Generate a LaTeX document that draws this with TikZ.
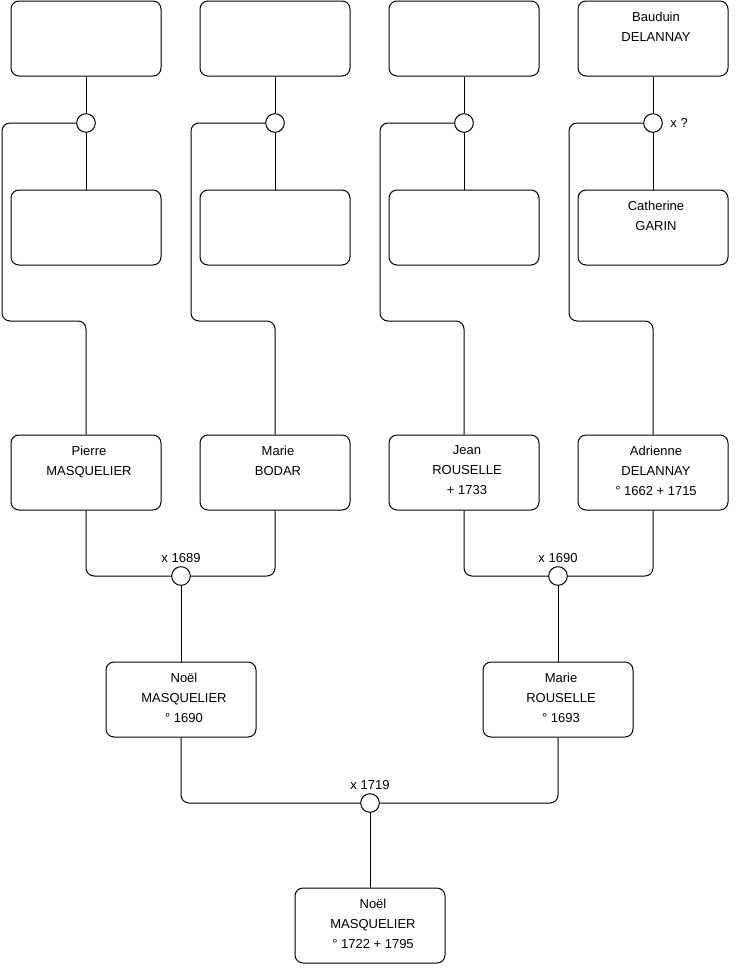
\documentclass[tikz,border=0pt]{standalone}
\usepackage{fontspec}
\setmainfont{Liberation Sans}
\begin{document}
\begin{tikzpicture}[x=0.75pt,y=-0.75pt,
 pbox/.style={draw, rounded corners=6pt, minimum width=112.5pt, minimum height=56.25pt, inner sep=0pt, line width=0.75pt},
 ptext/.style={anchor=north, align=center, inner sep=0pt, xshift=2.25pt, font=\fontsize{9.75}{15}\selectfont},
 knot/.style={draw, circle, minimum size=14pt, inner sep=0pt, fill=white, line width=0.75pt},
 link/.style={line width=0.75pt, rounded corners=6pt},
 lbl/.style={font=\fontsize{9.75}{12}\selectfont, inner sep=0pt}]
\useasboundingbox (0,0) rectangle (740,975);

% row 1
\node[pbox] (a1) at (86,38.5) {};
\node[pbox] (a2) at (275,38.5) {};
\node[pbox] (a3) at (464,38.5) {};
\node[pbox] (a4) at (653,38.5) {};
\node[ptext] (a4t) at ([yshift=-8.25pt]a4.north) {Bauduin\\DELANNAY};

% row 2
\node[pbox] (b1) at (86,227.5) {};
\node[pbox] (b2) at (275,227.5) {};
\node[pbox] (b3) at (464,227.5) {};
\node[pbox] (b4) at (653,227.5) {};
\node[ptext] (b4t) at ([yshift=-8.25pt]b4.north) {Catherine\\GARIN};

% row 3
\node[pbox] (p1) at (86,472.5) {};
\node[ptext] (p1t) at ([yshift=-8.25pt]p1.north) {Pierre\\MASQUELIER};
\node[pbox] (p2) at (275,472.5) {};
\node[ptext] (p2t) at ([yshift=-8.25pt]p2.north) {Marie\\BODAR};
\node[pbox] (p3) at (464,472.5) {};
\node[ptext] (p3t) at ([yshift=-8.25pt]p3.north) {Jean\\ROUSELLE\\+ 1733};
\node[pbox] (p4) at (653,472.5) {};
\node[ptext] (p4t) at ([yshift=-8.25pt]p4.north) {Adrienne\\DELANNAY\\° 1662 + 1715};

% row 4
\node[pbox] (n1) at (181,699.5) {};
\node[ptext] (n1t) at ([yshift=-8.25pt]n1.north) {Noël\\MASQUELIER\\° 1690};
\node[pbox] (n2) at (558,699.5) {};
\node[ptext] (n2t) at ([yshift=-8.25pt]n2.north) {Marie\\ROUSELLE\\° 1693};

% row 5
\node[pbox] (r1) at (370,925.5) {};
\node[ptext] (r1t) at ([yshift=-8.25pt]r1.north) {Noël\\MASQUELIER\\° 1722 + 1795};

% bend coordinates
\coordinate (k1) at (2,321);
\coordinate (k2) at (191,321);
\coordinate (k3) at (380,321);
\coordinate (k4) at (569,321);

% connectors top part
\foreach \i in {1,2,3,4} {
  \coordinate (cpos\i) at (a\i |- 0,123);
}
\node[knot] (c1) at (cpos1) {};
\node[knot] (c2) at (cpos2) {};
\node[knot] (c3) at (cpos3) {};
\node[knot] (c4) at (cpos4) {};

\foreach \i in {1,2,3,4} {
  \draw[link] (a\i.south) -- (c\i.north);
  \draw[link] (c\i.south) -- (b\i.north);
  \draw[link] (c\i.west) -| (k\i) -| (p\i.north);
}
\node[lbl, anchor=west] (c4l) at ([xshift=5.5pt]c4.east) {x ?};

% marriages row 3
\node[knot] (m1) at (181,576) {};
\node[knot] (m2) at (558,576) {};
\draw[link] (p1.south) |- (m1.west);
\draw[link] (p2.south) |- (m1.east);
\draw[link] (p3.south) |- (m2.west);
\draw[link] (p4.south) |- (m2.east);
\draw[link] (m1.south) -- (n1.north);
\draw[link] (m2.south) -- (n2.north);
\node[lbl, anchor=base] (m1l) at ([yshift=3pt]m1.north) {x 1689};
\node[lbl, anchor=base] (m2l) at ([yshift=3pt]m2.north) {x 1690};

% marriage row 4
\node[knot] (m3) at (370,803) {};
\draw[link] (n1.south) |- (m3.west);
\draw[link] (n2.south) |- (m3.east);
\draw[link] (m3.south) -- (r1.north);
\node[lbl, anchor=base] (m3l) at ([yshift=3pt]m3.north) {x 1719};
\end{tikzpicture}
\end{document}
